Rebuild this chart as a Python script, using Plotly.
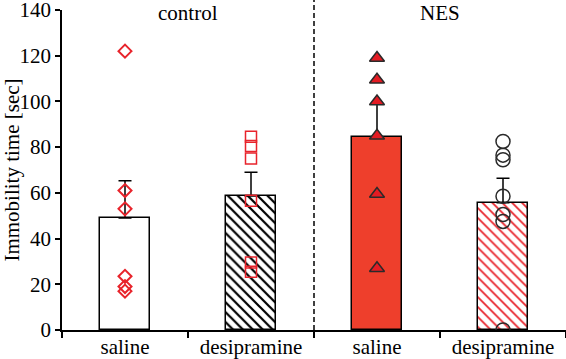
import plotly.graph_objects as go

# ---- data ----
categories = ["saline", "desipramine", "saline", "desipramine"]
groups = ["control", "NES"]
bar_means = [49, 58.6, 84.6, 55.7]
bar_err = [16.3, 10.4, 14.4, 10.7]

control_saline = [122, 61, 53, 23.5, 19, 17]
control_desipramine = [84.5, 80.5, 75, 56.5, 29.5, 25.5]
nes_saline = [119, 109.5, 100, 85, 59.5, 27]
nes_desipramine = [82.5, 76.5, 74.5, 58.5, 50.5, 47.5, 0]

y_ticks = [0, 20, 40, 60, 80, 100, 120, 140]

RED = "#E8232B"
BAR_RED = "#EE3F2C"
DARK = "#2a2a2a"
FONT = "Liberation Serif, serif"
FS = 21

xpos = list(range(len(categories)))

bar_fill = ["white", "white", BAR_RED, "white"]
bar_shape = ["", "\\", "", "\\"]
bar_fg = ["black", "black", "black", RED]
bar_solid = [0.3, 0.32, 0.3, 0.25]

fig = go.Figure()

for i in range(len(categories)):
    fig.add_trace(go.Bar(
        x=[xpos[i]], y=[bar_means[i]], width=0.4,
        marker=dict(
            color=bar_fill[i],
            line=dict(color="black", width=1.5),
            pattern=dict(shape=bar_shape[i], fgcolor=bar_fg[i], bgcolor=bar_fill[i],
                         fgopacity=1, size=7, solidity=bar_solid[i], fillmode="replace"),
        ),
        error_y=dict(type="data", symmetric=False, array=[bar_err[i]],
                     arrayminus=[0], color="black", thickness=1.5, width=6.5),
        showlegend=False,
    ))

def pts(idx, vals):
    return [xpos[idx]] * len(vals), vals

x, y = pts(0, control_saline)
fig.add_trace(go.Scatter(x=x, y=y, mode="markers", showlegend=False,
    marker=dict(symbol="diamond", size=10, color="rgba(0,0,0,0)",
                line=dict(color=RED, width=2))))
x, y = pts(1, control_desipramine)
fig.add_trace(go.Scatter(x=x, y=y, mode="markers", showlegend=False,
    marker=dict(symbol="square", size=11, color="rgba(0,0,0,0)",
                line=dict(color=RED, width=1.5))))
x, y = pts(2, nes_saline)
fig.add_trace(go.Scatter(x=x, y=y, mode="markers", showlegend=False,
    marker=dict(symbol="triangle-up", size=13, color="#E31B23",
                line=dict(color=DARK, width=1.5))))
x, y = pts(3, nes_desipramine)
fig.add_trace(go.Scatter(x=x, y=y, mode="markers", showlegend=False,
    marker=dict(symbol="circle", size=14, color="rgba(0,0,0,0)",
                line=dict(color=DARK, width=1.5))))

# divider between groups
fig.add_shape(type="line", xref="x", yref="paper", x0=1.5, x1=1.5, y0=0, y1=1.035,
              line=dict(color="black", width=1.5, dash="5px,3px"))

for gx, g in zip([0.5, 2.5], groups):
    fig.add_annotation(x=gx, y=138.5, xref="x", yref="y", text=g, showarrow=False,
                       yanchor="middle", font=dict(size=FS, family=FONT, color="black"))

fig.update_layout(
    width=566, height=359,
    margin=dict(l=62, r=0, t=10, b=29),
    paper_bgcolor="white", plot_bgcolor="white",
    font=dict(family=FONT, size=FS, color="black"),
    bargap=0, barmode="overlay",
)
fig.update_xaxes(
    range=[-0.5, 3.5], tickvals=xpos, ticktext=categories, ticks="", ticklen=0,
    showline=True, linecolor="black", linewidth=1.5, showgrid=False, zeroline=False,
    minor=dict(tickvals=[-0.5, 0.5, 1.5, 2.5, 3.5], ticks="outside", ticklen=6,
               tickwidth=1.5, tickcolor="black", showgrid=False),
    tickfont=dict(size=FS, family=FONT), automargin=False, ticklabeloverflow="allow",
    ticklabelstandoff=-3,
)
fig.update_yaxes(
    range=[0, 140], tickvals=y_ticks, ticks="outside", ticklen=5, tickwidth=1.5,
    tickcolor="black", showline=True, linecolor="black", linewidth=1.5,
    showgrid=False, zeroline=False, automargin=False, ticklabeloverflow="allow",
    tickfont=dict(size=FS, family=FONT),
    title=dict(text="Immobility time [sec]", font=dict(size=FS, family=FONT), standoff=1),
)

fig.write_html("out.html", config={"displayModeBar": False},
               post_script="document.body.style.margin='0';")
